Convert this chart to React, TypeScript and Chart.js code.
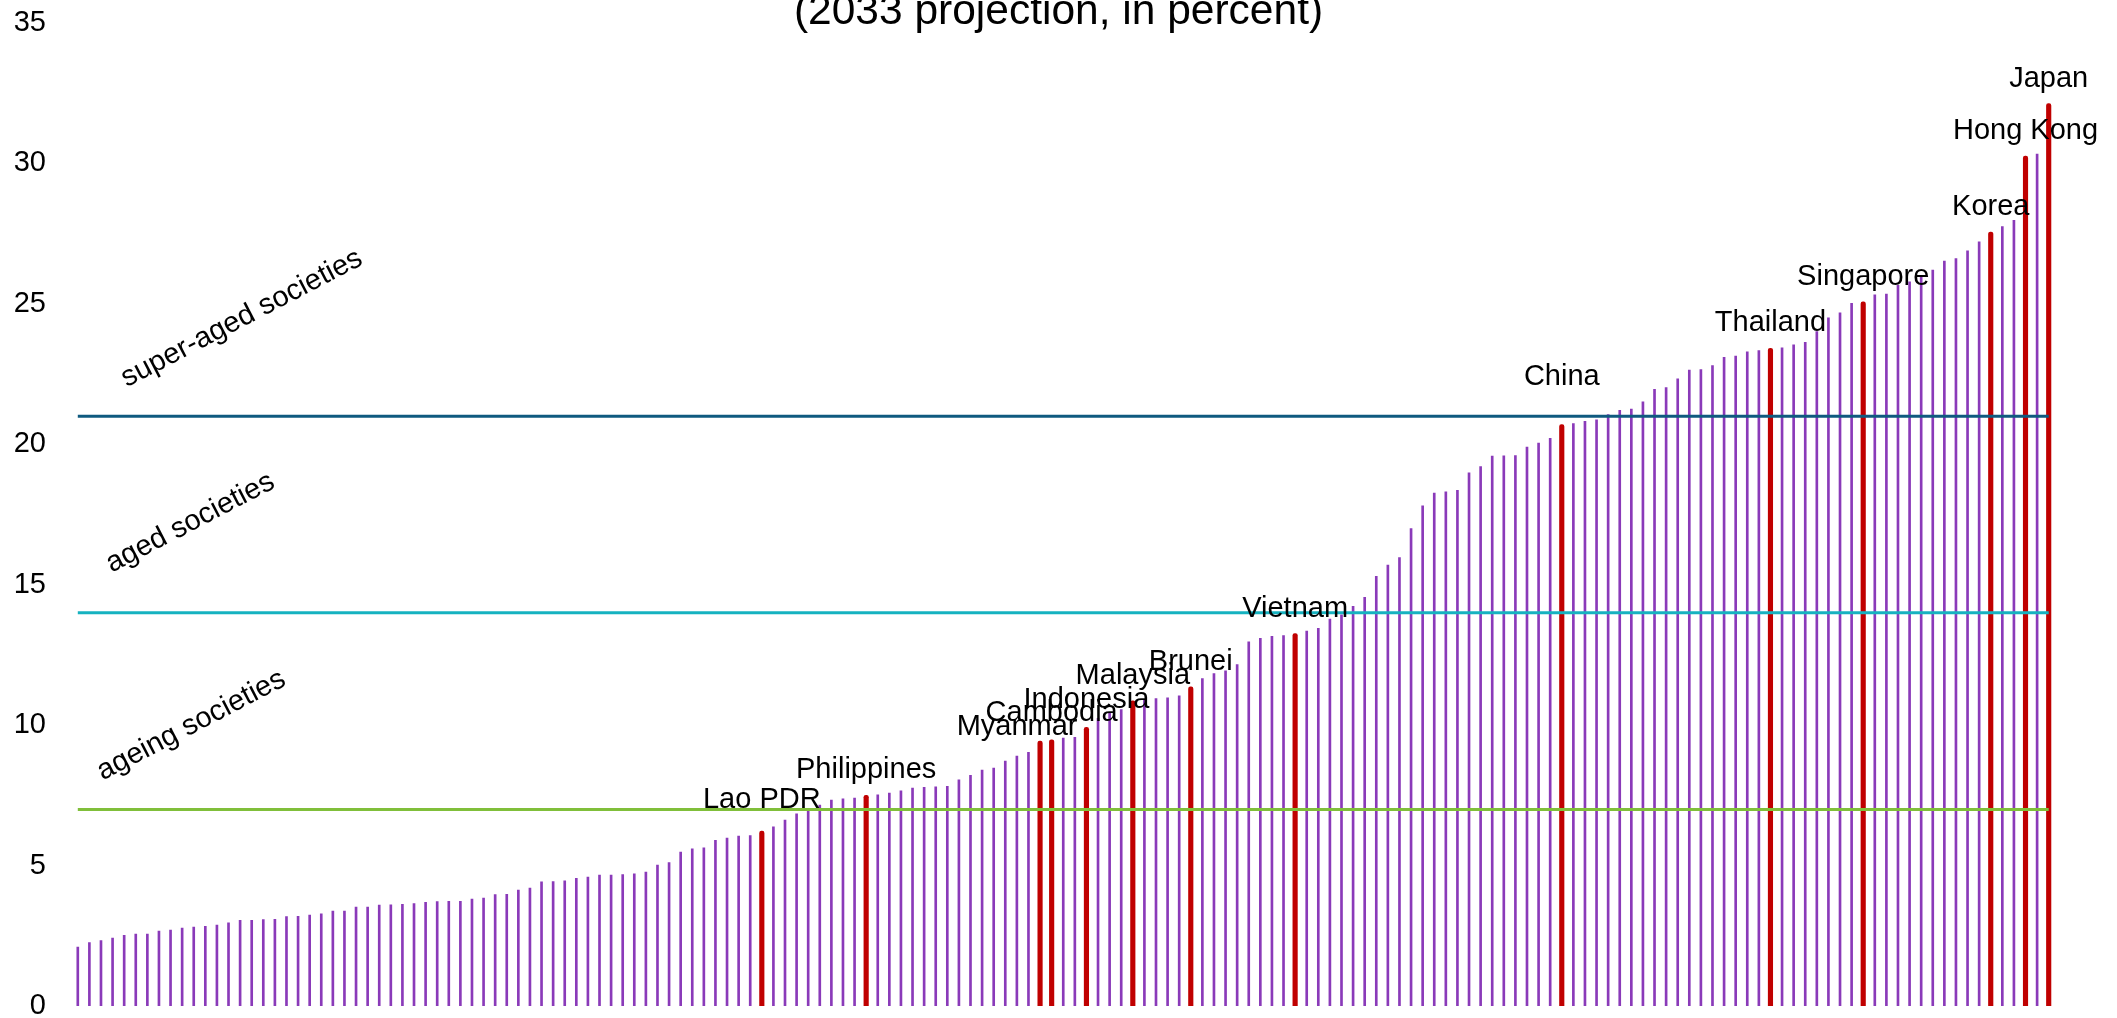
import React, { useEffect, useRef } from 'react';
import { Chart, registerables } from 'chart.js';

Chart.register(...registerables);

// Share of population aged 65+ (2033 projection, in percent), sorted ascending
const VALUES: number[] = [
  2.10, 2.26, 2.33, 2.42, 2.52, 2.56, 2.56, 2.67, 2.70, 2.77,
  2.81, 2.84, 2.88, 2.96, 3.05, 3.05, 3.08, 3.09, 3.18, 3.19,
  3.24, 3.28, 3.38, 3.38, 3.52, 3.52, 3.59, 3.60, 3.62, 3.65,
  3.69, 3.72, 3.73, 3.73, 3.81, 3.84, 3.97, 3.98, 4.13, 4.20,
  4.42, 4.43, 4.46, 4.55, 4.59, 4.66, 4.66, 4.68, 4.71, 4.77,
  5.02, 5.11, 5.48, 5.60, 5.63, 5.90, 5.98, 6.05, 6.07, 6.23,
  6.38, 6.62, 6.84, 6.97, 7.15, 7.33, 7.38, 7.40, 7.50, 7.52,
  7.58, 7.66, 7.76, 7.79, 7.80, 7.82, 8.05, 8.21, 8.40, 8.47,
  8.72, 8.90, 9.03, 9.43, 9.48, 9.54, 9.57, 9.92, 10.24, 10.45,
  10.55, 10.87, 10.88, 10.95, 10.97, 11.04, 11.36, 11.66, 11.84, 11.93,
  12.16, 12.97, 13.09, 13.16, 13.19, 13.26, 13.35, 13.45, 13.78, 13.93,
  14.23, 14.55, 15.30, 15.70, 15.97, 17.00, 17.81, 18.26, 18.31, 18.36,
  18.98, 19.21, 19.58, 19.59, 19.60, 19.90, 20.04, 20.21, 20.70, 20.74,
  20.82, 20.87, 21.06, 21.21, 21.25, 21.51, 21.96, 22.02, 22.33, 22.64,
  22.66, 22.80, 23.10, 23.14, 23.29, 23.34, 23.42, 23.43, 23.54, 23.63,
  24.01, 24.50, 24.68, 25.02, 25.07, 25.32, 25.35, 25.66, 25.78, 25.95,
  26.20, 26.52, 26.61, 26.89, 27.21, 27.56, 27.75, 27.97, 30.26, 30.33,
  32.13,
];

const HIGHLIGHT_NAMES: string[] = [
  'Lao PDR', 'Philippines', 'Myanmar', 'Cambodia', 'Indonesia', 'Malaysia', 'Brunei',
  'Vietnam', 'China', 'Thailand', 'Singapore', 'Korea', 'Hong Kong', 'Japan',
];
const HIGHLIGHT_RANK: number[] = [59, 68, 83, 84, 87, 91, 96, 105, 128, 146, 154, 165, 168, 170];

const THRESHOLDS: number[] = [7, 14, 21];
const THRESHOLD_NAMES: string[] = ['ageing societies', 'aged societies', 'super-aged societies'];
const Y_TICKS: number[] = [0, 5, 10, 15, 20, 25, 30, 35];
const TITLE = '(2033 projection, in percent)';

const PURPLE = '#8a3ab9';
const RED = '#c00000';
const LINE_COLORS = ['#80bf3a', '#16b2c0', '#0f5a7f'];
const FONT = '"Liberation Sans", Arial, sans-serif';

// label pixel adjustments (dx, dy) relative to default position above bar
const LABEL_ADJUST: Record<string, [number, number]> = {
  'Lao PDR': [0, -6],
  Myanmar: [-23, 11],
  Cambodia: [0, -2],
  Indonesia: [0, -2],
  China: [0, -23],
};
// diagonal label anchors: [x pixel offset from first bar, value]
const DIAG_ANCHOR: [number, number][] = [[25, 8.03], [34, 15.43], [49, 22.03]];

export default function App() {
  const canvasRef = useRef<HTMLCanvasElement | null>(null);

  useEffect(() => {
    document.body.style.margin = '0';
    const canvas = canvasRef.current;
    if (!canvas) return;

    const categories = VALUES.map((_, i) => {
      const k = HIGHLIGHT_RANK.indexOf(i);
      return k >= 0 ? HIGHLIGHT_NAMES[k] : '';
    });
    const isHi = (i: number) => HIGHLIGHT_RANK.indexOf(i) >= 0;

    const annotations = {
      id: 'annotations',
      afterDatasetsDraw(chart: any) {
        const ctx = chart.ctx;
        const xs = chart.scales.x;
        const ys = chart.scales.y;
        ctx.save();
        ctx.fillStyle = '#000';
        ctx.font = `29px ${FONT}`;
        ctx.textAlign = 'center';
        ctx.textBaseline = 'alphabetic';
        HIGHLIGHT_RANK.forEach((idx, k) => {
          const name = HIGHLIGHT_NAMES[k];
          const adj = LABEL_ADJUST[name] || [0, 0];
          const x = xs.getPixelForValue(idx);
          const y = ys.getPixelForValue(VALUES[idx]);
          ctx.fillText(name, x + adj[0], y - 17 + adj[1]);
        });
        // diagonal threshold names
        const x0 = xs.getPixelForValue(0);
        ctx.textAlign = 'left';
        ctx.font = `29px ${FONT}`;
        THRESHOLD_NAMES.forEach((t, i) => {
          const [dx, v] = DIAG_ANCHOR[i];
          ctx.save();
          ctx.translate(x0 + dx, ys.getPixelForValue(v));
          ctx.rotate((-27.5 * Math.PI) / 180);
          ctx.fillText(t, 0, 0);
          ctx.restore();
        });
        // title (top partially cut as in original)
        ctx.textAlign = 'center';
        ctx.font = `42.5px ${FONT}`;
        ctx.fillText(TITLE, chart.width / 2, 24);
        ctx.restore();
      },
    };

    const n = VALUES.length;
    const chart = new Chart(canvas, {
      type: 'bar',
      data: {
        labels: categories,
        datasets: [
          ...THRESHOLDS.map((t, i) => ({
            type: 'line' as const,
            label: THRESHOLD_NAMES[i],
            data: new Array(n).fill(t),
            borderColor: LINE_COLORS[i],
            borderWidth: 3,
            pointRadius: 0,
            fill: false,
            order: 0,
          })),
          {
            type: 'bar' as const,
            label: 'economies',
            data: VALUES.map((v, i) => (isHi(i) ? null : v)),
            backgroundColor: PURPLE,
            barThickness: 2,
            grouped: false,
            order: 2,
          },
          {
            type: 'bar' as const,
            label: 'highlighted',
            data: VALUES.map((v, i) => (isHi(i) ? v : null)),
            backgroundColor: RED,
            barThickness: 4.5,
            borderRadius: { topLeft: 2.2, topRight: 2.2, bottomLeft: 0, bottomRight: 0 },
            borderSkipped: false,
            grouped: false,
            order: 1,
          },
        ],
      },
      options: {
        animation: false,
        responsive: true,
        maintainAspectRatio: false,
        layout: { padding: { top: 23, bottom: 12, left: 0, right: 62.5 } },
        plugins: {
          legend: { display: false },
          tooltip: { enabled: false },
          title: { display: false },
        },
        scales: {
          x: {
            type: 'category',
            display: false,
            offset: true,
            grid: { display: false },
          },
          y: {
            min: 0,
            max: 35,
            afterFit(scale: any) {
              scale.width = 72;
              scale.paddingTop = 0;
              scale.paddingBottom = 0;
            },
            afterBuildTicks(scale: any) {
              scale.ticks = Y_TICKS.map((v) => ({ value: v }));
            },
            grid: { display: false, drawTicks: false },
            border: { display: false },
            ticks: {
              padding: 26,
              color: '#000',
              font: { family: FONT, size: 29 },
            },
          },
        },
      },
      plugins: [annotations],
    });

    return () => chart.destroy();
  }, []);

  return (
    <div style={{ position: 'relative', width: '2117px', height: '1018px' }}>
      <canvas ref={canvasRef} />
    </div>
  );
}
